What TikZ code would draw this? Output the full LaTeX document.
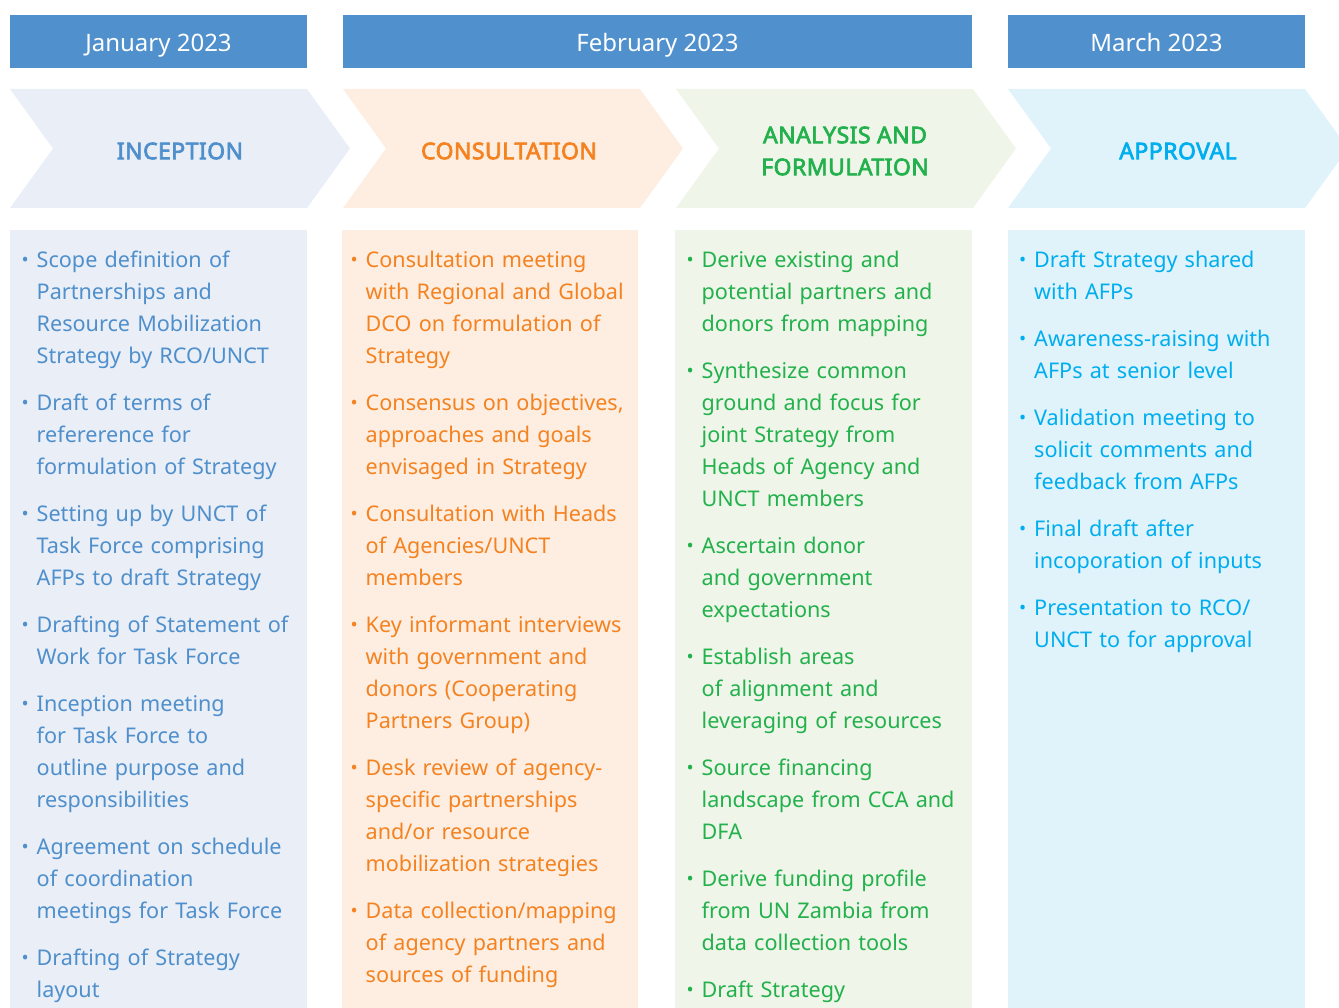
\documentclass[tikz,border=0pt]{standalone}
\usepackage{fontspec}
\setmainfont{Noto Sans}
\newfontfamily\phasefont{Noto Sans}[FakeBold=3, LetterSpace=2]

\definecolor{monthblue}{HTML}{4F90CD}
\definecolor{inceptfill}{HTML}{E9EEF7}
\definecolor{incepttext}{HTML}{4F8FCB}
\definecolor{consultfill}{HTML}{FDEEE1}
\definecolor{consulttext}{HTML}{F58220}
\definecolor{analysisfill}{HTML}{EFF5E8}
\definecolor{analysistext}{HTML}{22B14C}
\definecolor{approvalfill}{HTML}{E0F2FA}
\definecolor{approvaltext}{HTML}{00AEEF}

% one bullet point with hanging indent
\newcommand{\bitem}[1]{\noindent\hangindent=15pt\hangafter=1\strut\makebox[15pt][l]{\raisebox{1.5pt}{\fontsize{19}{19}\selectfont •}}#1\par}

\begin{document}
\begin{tikzpicture}[x=1pt, y=-1pt]
        \tikzstyle{month}=[fill=monthblue, text=white, minimum height=53pt, inner sep=0pt, text height=22pt, text depth=1pt, font=\fontsize{24}{28}\selectfont]
        \tikzstyle{phase}=[align=center, inner sep=0pt, font=\phasefont\fontsize{23}{32}\selectfont]
        \tikzstyle{column}=[anchor=north west, inner sep=0pt, text width=285pt, font=\fontsize{21.6}{32}\selectfont\setlength{\parskip}{15pt}]

        \useasboundingbox (0,0) rectangle (1339,1008);

        % months
        \node[month, minimum width=297pt](jan) at (158.5,41.5){January 2023};
        \node[month, minimum width=629pt](feb) at (657.5,41.5){February 2023};
        \node[month, minimum width=297pt](mar) at (1156.5,41.5){March 2023};

        % phase arrows
        \fill[inceptfill] (10,89) -- (307,89) -- (350,148.5) -- (307,208) -- (10,208) -- (53,148.5) -- cycle;
        \fill[consultfill] (343,89) -- (640,89) -- (683,148.5) -- (640,208) -- (343,208) -- (386,148.5) -- cycle;
        \fill[analysisfill] (676,89) -- (973,89) -- (1016,148.5) -- (973,208) -- (676,208) -- (719,148.5) -- cycle;
        \fill[approvalfill] (1008,89) -- (1305,89) -- (1348,148.5) -- (1305,208) -- (1008,208) -- (1051,148.5) -- cycle;

        \node[phase, text=incepttext](inception) at (180,151){INCEPTION};
        \node[phase, text=consulttext](consultation) at (509,151){CONSULTATION};
        \node[phase, text=analysistext](analysis) at (845,151){ANALYSIS AND\\FORMULATION};
        \node[phase, text=approvaltext](approval) at (1178,151){APPROVAL};

        % activity columns
        \fill[inceptfill] (10,230) rectangle (307,1010);
        \fill[consultfill] (342,230) rectangle (638,1010);
        \fill[analysisfill] (675,230) rectangle (972,1010);
        \fill[approvalfill] (1008,230) rectangle (1305,1010);

        \node[column, text=incepttext](inception-list) at (21.5,245){%
          \bitem{Scope definition of\newline Partnerships and\newline Resource Mobilization\newline Strategy by RCO/UNCT}
          \bitem{Draft of terms of\newline refererence for\newline formulation of Strategy}
          \bitem{Setting up by UNCT of\newline Task Force comprising\newline AFPs to draft Strategy}
          \bitem{Drafting of Statement of\newline Work for Task Force}
          \bitem{Inception meeting\newline for Task Force to\newline outline purpose and\newline responsibilities}
          \bitem{Agreement on schedule\newline of coordination\newline meetings for Task Force}
          \bitem{Drafting of Strategy\newline layout}};

        \node[column, text=consulttext](consultation-list) at (350.5,245){%
          \bitem{Consultation meeting\newline with Regional and Global\newline DCO on formulation of\newline Strategy}
          \bitem{Consensus on objectives,\newline approaches and goals\newline envisaged in Strategy}
          \bitem{Consultation with Heads\newline of Agencies/UNCT\newline members}
          \bitem{Key informant interviews\newline with government and\newline donors (Cooperating\newline Partners Group)}
          \bitem{Desk review of agency-\newline specific partnerships\newline and/or resource\newline mobilization strategies}
          \bitem{Data collection/mapping\newline of agency partners and\newline sources of funding}};

        \node[column, text=analysistext](analysis-list) at (686.5,245){%
          \bitem{Derive existing and\newline potential partners and\newline donors from mapping}
          \bitem{Synthesize common\newline ground and focus for\newline joint Strategy from\newline Heads of Agency and\newline UNCT members}
          \bitem{Ascertain donor\newline and government\newline expectations}
          \bitem{Establish areas\newline of alignment and\newline leveraging of resources}
          \bitem{Source financing\newline landscape from CCA and\newline DFA}
          \bitem{Derive funding profile\newline from UN Zambia from\newline data collection tools}
          \bitem{Draft Strategy}};

        \node[column, text=approvaltext](approval-list) at (1019,245){%
          \bitem{Draft Strategy shared\newline with AFPs}
          \bitem{Awareness-raising with\newline AFPs at senior level}
          \bitem{Validation meeting to\newline solicit comments and\newline feedback from AFPs}
          \bitem{Final draft after\newline incoporation of inputs}
          \bitem{Presentation to RCO/\newline UNCT to for approval}};

\end{tikzpicture}
\end{document}
